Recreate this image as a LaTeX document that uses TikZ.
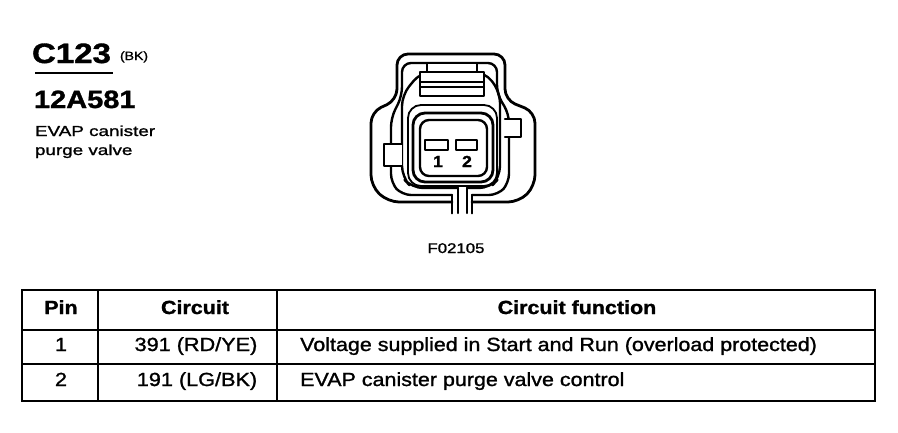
\documentclass[tikz,border=0pt]{standalone}
\usepackage{fontspec}
\setmainfont{Liberation Sans}
\newfontfamily\heavyreg{Liberation Sans}[FakeBold=1.2]
\newfontfamily\heavybold{Liberation Sans Bold}[FakeBold=1.2]
\usepackage{graphicx}
\newcommand{\hstr}[2]{\scalebox{#1}[1]{#2}}
\tikzset{
  ln/.style={line width=2.4pt, line join=round, line cap=round},
  thick ln/.style={line width=2.8pt, line join=round, line cap=round},
  txt/.style={inner sep=0pt, outer sep=0pt},
  tblline/.style={line width=2.2pt},
  tbltxt/.style={inner sep=0pt, anchor=base, font=\fontsize{19}{19}\selectfont\heavyreg},
  tblhead/.style={inner sep=0pt, anchor=base, font=\fontsize{19}{19}\selectfont\heavybold},
}
\begin{document}
\begin{tikzpicture}[x=1pt,y=-1pt]
\fill[white] (0,0) rectangle (898,432);
\useasboundingbox (0,0) rectangle (898,432);

% ---- title block ----
\node[txt, anchor=base west] (title) at (32,63) {\fontsize{28}{28}\selectfont\heavybold\hstr{1.18}{C123}};
\node[txt, anchor=base west] (bk) at (120,60) {\fontsize{12}{12}\selectfont\heavyreg\hstr{1.17}{(BK)}};
\coordinate (ulA) at (35,73);
\coordinate (ulB) at (113,73);
\draw[line width=2.2pt] (ulA) -- (ulB);
\node[txt, anchor=base west] (part) at (34,108) {\fontsize{25}{25}\selectfont\heavybold\hstr{1.16}{12A581}};
\node[txt, anchor=base west] (desc1) at (35,136) {\fontsize{14.5}{14.5}\selectfont\heavyreg\hstr{1.3}{EVAP canister}};
\node[txt, anchor=base west] (desc2) at (35,155) {\fontsize{14.5}{14.5}\selectfont\heavyreg\hstr{1.3}{purge valve}};

% ---- connector face ----
% outer shell
\draw[thick ln] (452,213) -- (452,202);
\draw[thick ln] (472,213) -- (472,202);
\draw[thick ln, rounded corners=11] (452,202) -- (388,202) -- (371,186) -- (371,112) -- (397,100) -- (397,54) -- (505,54) -- (505,100) -- (535,112) -- (535,186) -- (519,202) -- (472,202);
% second line
\draw[ln] (452,213) -- (452,195);
\draw[ln] (472,213) -- (472,195);
\draw[ln, rounded corners=9] (452,195) -- (402,195) -- (391,183) -- (391,118) -- (402,96) -- (402,63) -- (497,63) -- (497,94) -- (509,114) -- (509,183) -- (498,195) -- (472,195);
% third line (arch)
\draw[ln] (458,213) -- (458,188);
\draw[ln] (467,213) -- (467,188);
\draw[ln, rounded corners=11] (458,188) -- (412,188) -- (402,177) -- (402,95) -- (421,72) -- (485,72) -- (500,92) -- (500,177) -- (490,188) -- (467,188);
% fourth line around cavity
\draw[line width=1.8pt, rounded corners=13] (408,105) rectangle (497,186);
% latch
\draw[ln, fill=white] (427,63) rectangle (477,72);
\draw[ln, fill=white] (420,72) rectangle (484,96);
\draw[ln] (420,82) -- (484,82);
\draw[ln] (420,87) -- (484,87);
% side tabs
\draw[ln, fill=white] (402,144) -- (384,144) -- (384,166) -- (402,166);
\draw[ln, fill=white] (505,119) -- (521,119) -- (521,137) -- (505,137);
% pin cavity
\draw[thick ln, fill=white, rounded corners=12] (413,113) rectangle (493,182);
\draw[ln, rounded corners=9] (420,120) rectangle (487,176);
% pin slots
\draw[ln] (425,140) rectangle (448,150);
\draw[ln] (456,140) rectangle (477,150);
\node[txt, anchor=base] (p1) at (438,167) {\fontsize{16}{16}\selectfont\heavybold\hstr{1.1}{1}};
\node[txt, anchor=base] (p2) at (467,167) {\fontsize{16}{16}\selectfont\heavybold\hstr{1.1}{2}};

\node[txt, anchor=base] (fig) at (456,253) {\fontsize{14}{14}\selectfont\heavyreg\hstr{1.2}{F02105}};

% ---- table ----
\draw[line width=2.5pt] (22,290) rectangle (875,401);
\draw[tblline] (22,330) -- (875,330);
\draw[tblline] (22,364) -- (875,364);
\draw[tblline] (98,290) -- (98,401);
\draw[tblline] (277,290) -- (277,401);

\node[tblhead] (hpin) at (61,314) {\hstr{1.13}{Pin}};
\node[tblhead] (hcir) at (195,314) {\hstr{1.13}{Circuit}};
\node[tblhead] (hfun) at (577,314) {\hstr{1.13}{Circuit function}};

\node[tbltxt] (r1pin) at (61,351) {\hstr{1.13}{1}};
\node[tbltxt] (r1cir) at (196,351) {\hstr{1.14}{391 (RD/YE)}};
\node[tbltxt, anchor=base west] (r1fun) at (300,351) {\hstr{1.13}{Voltage supplied in Start and Run (overload protected)}};

\node[tbltxt] (r2pin) at (61,386) {\hstr{1.13}{2}};
\node[tbltxt] (r2cir) at (197,386) {\hstr{1.14}{191 (LG/BK)}};
\node[tbltxt, anchor=base west] (r2fun) at (300,386) {\hstr{1.13}{EVAP canister purge valve control}};
\end{tikzpicture}
\end{document}
